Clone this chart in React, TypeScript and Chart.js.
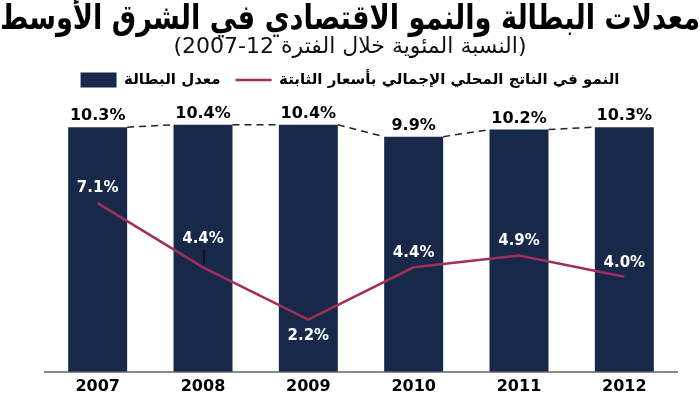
import React, { useEffect, useRef } from "react";
import { Chart, registerables } from "chart.js";

Chart.register(...registerables);

const years = ["2007", "2008", "2009", "2010", "2011", "2012"];
const unemployment = [10.3, 10.4, 10.4, 9.9, 10.2, 10.3];
const gdpGrowth = [7.1, 4.4, 2.2, 4.4, 4.9, 4.0];
const titleText = "معدلات البطالة والنمو الاقتصادي في الشرق الأوسط";
const subtitleText = "(النسبة المئوية خلال الفترة 12-2007)";
const unemploymentLabel = "معدل البطالة";
const growthLabel = "النمو في الناتج المحلي الإجمالي بأسعار الثابتة";

const BAR_COLOR = "#172849";
const LINE_COLOR = "#a02f5c";
const FONT = "'DejaVu Sans', Verdana, sans-serif";

// label placement for growth values: offset in px from the point (negative = above)
const growthLabelOffsets = [-15, -28, 17, -14, -14, -14];

const labelsPlugin = {
  id: "customLabels",
  afterDatasetsDraw(chart: any) {
    const ctx = chart.ctx;
    const barMeta = chart.getDatasetMeta(0);
    const lineMeta = chart.getDatasetMeta(1);
    ctx.save();
    // dashed connectors between bar tops
    ctx.strokeStyle = "#222";
    ctx.lineWidth = 1.5;
    ctx.setLineDash([7, 5]);
    for (let i = 0; i < barMeta.data.length - 1; i++) {
      const a = barMeta.data[i];
      const b = barMeta.data[i + 1];
      ctx.beginPath();
      ctx.moveTo(a.x + a.width / 2, a.y);
      ctx.lineTo(b.x - b.width / 2, b.y);
      ctx.stroke();
    }
    ctx.setLineDash([]);
    // bar value labels
    ctx.fillStyle = "#000";
    ctx.textAlign = "center";
    ctx.textBaseline = "middle";
    ctx.font = `bold 16px ${FONT}`;
    barMeta.data.forEach((el: any, i: number) => {
      ctx.fillText(unemployment[i].toFixed(1) + "%", el.x, el.y - 11);
    });
    // growth labels
    ctx.fillStyle = "#fff";
    ctx.font = `bold 15px ${FONT}`;
    lineMeta.data.forEach((el: any, i: number) => {
      const off = growthLabelOffsets[i];
      ctx.fillText(gdpGrowth[i].toFixed(1) + "%", el.x, el.y + off);
      if (off < -20) {
        ctx.strokeStyle = "#000";
        ctx.lineWidth = 1;
        ctx.beginPath();
        ctx.moveTo(el.x + 1, el.y + off + 10);
        ctx.lineTo(el.x + 1, el.y - 3);
        ctx.stroke();
      }
    });
    ctx.restore();
  },
};

const hiddenAxis = (position: string, width: number) => ({
  display: true,
  position,
  ticks: { display: false },
  grid: { display: false, drawTicks: false },
  border: { display: false },
  afterFit: (scale: any) => {
    scale.width = width;
  },
});

export default function App() {
  const ref = useRef<HTMLCanvasElement>(null);
  useEffect(() => {
    if (!ref.current) return;
    const chart = new Chart(ref.current, {
      type: "bar",
      data: {
        labels: years,
        datasets: [
          {
            type: "bar",
            label: unemploymentLabel,
            data: unemployment,
            backgroundColor: BAR_COLOR,
            borderWidth: 0,
            barPercentage: 0.56,
            categoryPercentage: 1,
            order: 2,
            pointStyle: "rect",
            yAxisID: "y",
          } as any,
          {
            type: "line",
            label: growthLabel,
            data: gdpGrowth,
            borderColor: LINE_COLOR,
            backgroundColor: LINE_COLOR,
            borderWidth: 2.5,
            pointRadius: 0,
            tension: 0,
            order: 1,
            pointStyle: "line",
            yAxisID: "y",
          } as any,
        ],
      },
      options: {
        responsive: true,
        maintainAspectRatio: false,
        animation: false,
        layout: { padding: { left: 0, right: 0, top: 0, bottom: 0 } },
        plugins: {
          title: {
            display: true,
            text: titleText,
            color: "#000",
            font: { family: FONT, size: 34, weight: "bold", lineHeight: 1.05 },
            padding: { top: 2, bottom: 0 },
          },
          subtitle: {
            display: true,
            text: subtitleText,
            color: "#111",
            font: { family: FONT, size: 22, weight: "normal", lineHeight: 0.9 },
            padding: { top: 0, bottom: 0 },
          },
          legend: {
            display: true,
            labels: {
              usePointStyle: true,
              pointStyleWidth: 36,
              boxHeight: 16,
              padding: 15,
              color: "#000",
              font: { family: FONT, size: 15, weight: "bold" },
              sort: (a: any, b: any) => a.datasetIndex - b.datasetIndex,
            },
          },
          tooltip: { enabled: false },
        },
        scales: {
          x: {
            grid: { display: false, drawTicks: false },
            border: { display: true, color: "#8a8a8a", width: 2 },
            ticks: {
              color: "#000",
              padding: 5,
              font: { family: FONT, size: 16, weight: "bold" },
            },
          },
          y: {
            ...hiddenAxis("left", 45),
            min: 0,
            max: 11.55,
          } as any,
          yRight: {
            ...hiddenAxis("right", 23),
            min: 0,
            max: 11.55,
          } as any,
        },
      },
      plugins: [labelsPlugin],
    });
    return () => chart.destroy();
  }, []);
  return (
    <div style={{ position: "fixed", left: 0, top: 0, width: 700, height: 401, background: "#fff" }}>
      <canvas ref={ref} />
    </div>
  );
}
